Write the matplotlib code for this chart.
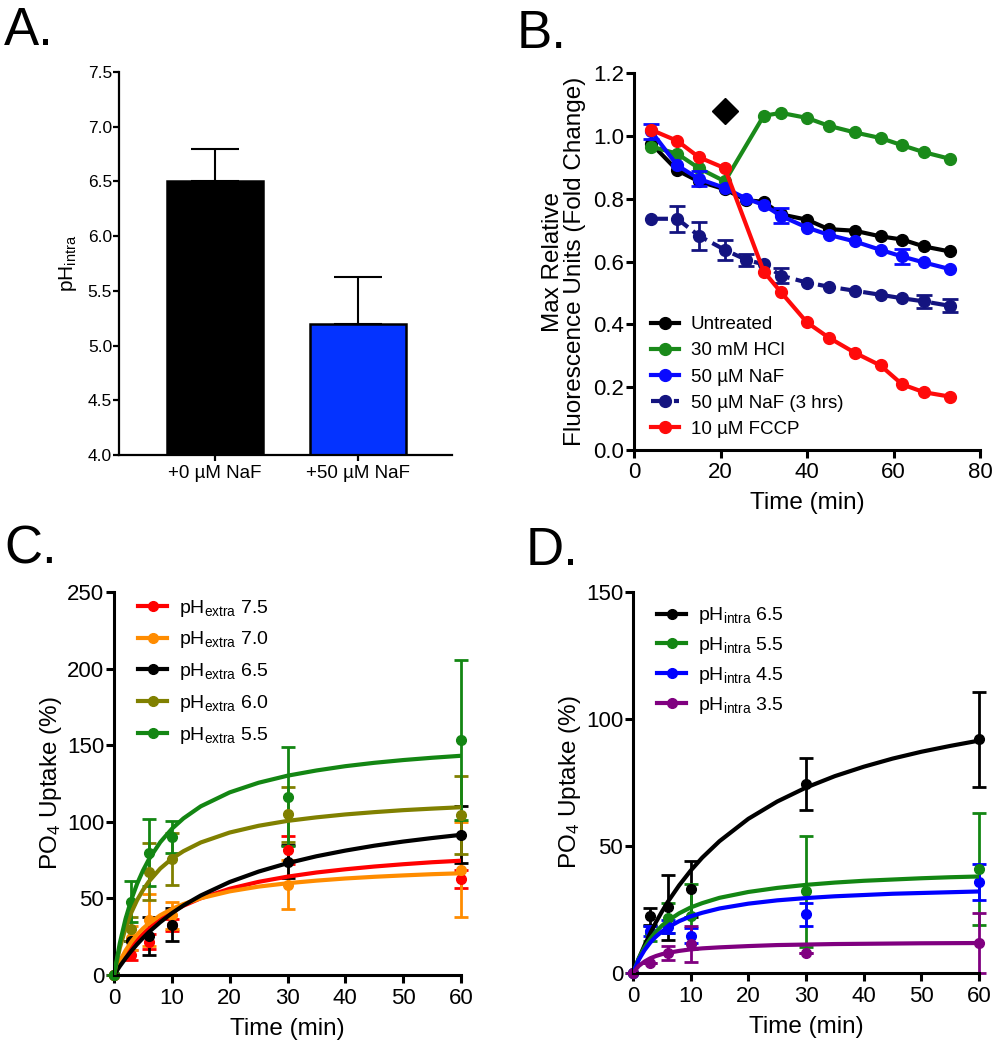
import matplotlib
matplotlib.use('Agg')
import matplotlib.pyplot as plt
import numpy as np
from matplotlib.lines import Line2D

plt.rcParams['font.family'] = ['Liberation Sans', 'DejaVu Sans']
plt.rcParams['mathtext.fontset'] = 'custom'
plt.rcParams['mathtext.rm'] = 'Liberation Sans'
plt.rcParams['mathtext.it'] = 'Liberation Sans:italic'

# ---- panel A: intracellular pH ----
a_groups = ['+0 µM NaF', '+50 µM NaF']
a_ph = [6.5, 5.2]
a_err = [0.3, 0.43]
a_colors = ['#000000', '#0433ff']

# ---- panel B: fluorescence over time ----
b_t = [4, 10, 15, 21, 26, 30, 34, 40, 45, 51, 57, 62, 67, 73]
b_t_short = [4, 10, 15, 21, 30, 34, 40, 45, 51, 57, 62, 67, 73]
b_untreated = [0.975, 0.89, 0.855, 0.83, 0.795, 0.79, 0.75, 0.733, 0.703, 0.698, 0.68, 0.67, 0.648, 0.632]
b_hcl = [0.966, 0.943, 0.897, 0.855, 1.064, 1.073, 1.057, 1.032, 1.011, 0.993, 0.97, 0.948, 0.927]
b_naf = [1.014, 0.906, 0.863, 0.834, 0.80, 0.78, 0.745, 0.708, 0.685, 0.664, 0.637, 0.616, 0.597, 0.576]
b_naf_err = [0.025, 0, 0.024, 0, 0, 0, 0.024, 0, 0, 0, 0, 0.025, 0, 0]
b_naf3 = [0.736, 0.736, 0.682, 0.637, 0.605, 0.591, 0.555, 0.533, 0.52, 0.507, 0.494, 0.483, 0.473, 0.459]
b_naf3_err = [0, 0.042, 0.045, 0.031, 0.02, 0, 0.023, 0, 0, 0, 0, 0, 0.02, 0.021]
b_fccp = [1.019, 0.984, 0.932, 0.897, 0.568, 0.502, 0.406, 0.358, 0.31, 0.269, 0.209, 0.184, 0.17]
b_diamond = (21.1, 1.078)

# ---- panels C and D: PO4 uptake ----
t_pts = [0, 3, 6, 10, 30, 60]
t_fit = [0, 1, 2, 3, 4, 5, 6, 8, 10, 12, 15, 20, 25, 30, 35, 40, 45, 50, 55, 60]

c_labels = ['7.5', '7.0', '6.5', '6.0', '5.5']
c_colors = ['#ff0000', '#ff8c00', '#000000', '#808000', '#138613']
c_vals = [
    [0, 13, 21.8, 32.7, 81.7, 62.5],
    [0, 24, 36, 39, 58.8, 68.6],
    [0, 22.3, 25.5, 32.7, 74, 91.5],
    [0, 30, 67.5, 75.6, 105, 104.5],
    [0, 47.9, 79.9, 89.9, 116.5, 153.4],
]
c_errs = [
    [0, 3, 5, 4, 9, 6],
    [0, 8, 17, 8.7, 16, 31],
    [0, 0, 12.5, 10.8, 10.6, 18.7],
    [0, 8, 18.5, 17, 18, 25.5],
    [0, 13.5, 22, 10.5, 32, 52],
]
c_curves = [
    [0, 7.0, 13.0, 18.2, 22.7, 26.7, 30.2, 36.2, 41.1, 45.2, 50.1, 56.3, 60.8, 64.2, 66.9, 69.0, 70.8, 72.3, 73.6, 74.6],
    [0, 9.0, 16.0, 21.7, 26.4, 30.3, 33.6, 39.0, 43.1, 46.3, 50.1, 54.6, 57.7, 59.9, 61.6, 63.0, 64.1, 65.0, 65.8, 66.4],
    [0, 5.7, 10.9, 15.7, 20.1, 24.1, 27.9, 34.5, 40.3, 45.4, 51.9, 60.7, 67.5, 73.0, 77.5, 81.2, 84.4, 87.1, 89.4, 91.5],
    [0, 17.6, 30.7, 40.8, 48.9, 55.4, 60.9, 69.5, 75.9, 80.8, 86.5, 93.0, 97.4, 100.6, 102.9, 104.8, 106.3, 107.6, 108.6, 109.5],
    [0, 20.7, 36.7, 49.3, 59.6, 68.1, 75.3, 86.7, 95.4, 102.2, 110.1, 119.2, 125.5, 130.1, 133.5, 136.3, 138.5, 140.3, 141.8, 143.1],
]

d_labels = ['6.5', '5.5', '4.5', '3.5']
d_colors = ['#000000', '#138613', '#0000ff', '#800080']
d_vals = [
    [0, 22.3, 25.8, 33.1, 74.3, 92],
    [0, 15.7, 21.6, 22.3, 32.1, 40.9],
    [0, 16.4, 18.3, 14.7, 23.2, 35.8],
    [0, 3.9, 7.9, 11.4, 7.9, 11.8],
]
d_errs = [
    [0, 3.3, 12.8, 10.9, 10.2, 18.6],
    [0, 3, 6, 12.7, 22, 22],
    [0, 2, 2.5, 3, 4.5, 7],
    [0, 0, 2.8, 7.2, 0, 11.8],
]
d_curves = [
    [0, 5.7, 10.9, 15.7, 20.1, 24.1, 27.9, 34.5, 40.3, 45.4, 51.9, 60.7, 67.5, 73.0, 77.5, 81.2, 84.4, 87.1, 89.4, 91.5],
    [0, 5.8, 10.1, 13.5, 16.3, 18.6, 20.5, 23.5, 25.8, 27.5, 29.6, 31.9, 33.5, 34.7, 35.6, 36.3, 36.8, 37.3, 37.7, 38.0],
    [0, 5.2, 9.0, 12.0, 14.4, 16.3, 17.9, 20.4, 22.3, 23.7, 25.4, 27.3, 28.6, 29.5, 30.2, 30.7, 31.2, 31.5, 31.8, 32.1],
    [0, 2.8, 4.5, 5.8, 6.7, 7.4, 7.9, 8.7, 9.3, 9.7, 10.1, 10.6, 11.0, 11.2, 11.4, 11.5, 11.6, 11.7, 11.75, 11.8],
]

W, H = 999, 1050
fig = plt.figure(figsize=(W / 100, H / 100), dpi=100)


def add_axes(left, top, right, bottom):
    # pixel box -> figure fraction
    return fig.add_axes([left / W, 1 - bottom / H, (right - left) / W, (bottom - top) / H])


def style_axes(ax, lw=2.2, tick_len=6, fs=16):
    for s in ['top', 'right']:
        ax.spines[s].set_visible(False)
    for s in ['left', 'bottom']:
        ax.spines[s].set_linewidth(lw)
    ax.tick_params(direction='out', length=tick_len, width=lw, labelsize=fs)
    ax.tick_params(axis='y', pad=1)
    ax.tick_params(axis='x', pad=3)


# ---- A ----
axA = add_axes(119, 72, 452, 455)
xa = np.arange(len(a_groups))
axA.bar(xa, np.array(a_ph) - 4.0, bottom=4.0, width=0.67, color=a_colors,
        edgecolor='black', linewidth=1.8, zorder=2)
axA.errorbar(xa, a_ph, yerr=[[0, 0], a_err], fmt='none', ecolor='black',
             elinewidth=1.5, capsize=17, capthick=1.5, zorder=1)
axA.set_xlim(-0.67, 1.66)
axA.set_ylim(4.0, 7.5)
axA.set_yticks(np.arange(4.0, 7.51, 0.5))
axA.set_yticklabels(['%.1f' % v for v in np.arange(4.0, 7.51, 0.5)])
axA.set_xticks(xa)
axA.set_xticklabels(a_groups)
style_axes(axA, lw=1.6, tick_len=4, fs=12.5)
axA.tick_params(axis='x', labelsize=13.5, pad=3)
axA.set_ylabel(r'pH$_{\mathregular{intra}}$', fontsize=15, labelpad=6)

# ---- B ----
axB = add_axes(634, 73, 980, 450)
ms_b = 8.5
axB.plot(b_t, b_untreated, '-o', color='black', lw=3, ms=ms_b, label='Untreated', clip_on=False)
axB.plot(b_t_short, b_hcl, '-o', color='#1a8a1a', lw=3, ms=ms_b, label='30 mM HCl', clip_on=False)
axB.plot(b_t, b_naf, '-o', color='#0a0aff', lw=3, ms=ms_b, label='50 µM NaF', clip_on=False)
m = np.array(b_naf_err) > 0
axB.errorbar(np.array(b_t)[m], np.array(b_naf)[m], yerr=np.array(b_naf_err)[m], fmt='none',
             ecolor='#0a0aff', elinewidth=2, capsize=5.5, capthick=2)
axB.plot(b_t, b_naf3, 'o', linestyle=(0, (4, 1.5)), color='#141480', lw=3, ms=ms_b,
         label='50 µM NaF (3 hrs)', clip_on=False)
m = np.array(b_naf3_err) > 0
axB.errorbar(np.array(b_t)[m], np.array(b_naf3)[m], yerr=np.array(b_naf3_err)[m], fmt='none',
             ecolor='#141480', elinewidth=2, capsize=5.5, capthick=2)
axB.plot(b_t_short, b_fccp, '-o', color='#ff0a0a', lw=3, ms=ms_b, label='10 µM FCCP', clip_on=False)
axB.plot([b_diamond[0]], [b_diamond[1]], marker='D', color='black', ms=13, linestyle='none')
axB.set_xlim(0, 80)
axB.set_ylim(0, 1.2)
axB.set_xticks(np.arange(0, 81, 20))
axB.set_yticks(np.arange(0, 1.21, 0.2))
axB.set_yticklabels(['%.1f' % v for v in np.arange(0, 1.21, 0.2)])
style_axes(axB)
axB.set_xlabel('Time (min)', fontsize=17.5, labelpad=6)
axB.set_ylabel('Max Relative\nFluorescence Units (Fold Change)', fontsize=17.5,
               labelpad=5, linespacing=1.0)
axB.legend(loc='upper left', bbox_to_anchor=(0.05, 0.355), frameon=False, fontsize=13.5,
           handlelength=1.5, handletextpad=0.6, labelspacing=0.48, borderpad=0, borderaxespad=0)


def uptake_panel(ax, vals, errs, curves, colors, labels, prefix, ymax, order):
    for i in order:
        ax.plot(t_fit, curves[i], '-', color=colors[i], lw=3, zorder=3 + i * 0.01)
        ax.errorbar(t_pts, vals[i], yerr=errs[i], fmt='o', color=colors[i], ms=7,
                    elinewidth=2, capsize=4.7, capthick=2, zorder=2 + i * 0.01, clip_on=False)
    handles = [Line2D([], [], color=c, lw=3, marker='o', ms=7) for c in colors]
    texts = [r'pH$_{\mathregular{%s}}$ %s' % (prefix, lab) for lab in labels]
    ax.set_xlim(0, 60)
    ax.set_ylim(0, ymax)
    ax.set_xticks(np.arange(0, 61, 10))
    ax.set_yticks(np.arange(0, ymax + 1, 50))
    style_axes(ax)
    ax.set_xlabel('Time (min)', fontsize=17.5, labelpad=7)
    ax.set_ylabel(r'PO$_4$ Uptake (%)', fontsize=17.5, labelpad=2)
    return handles, texts


# ---- C ----
axC = add_axes(114, 592, 461, 975)
h, t = uptake_panel(axC, c_vals, c_errs, c_curves, c_colors, c_labels, 'extra', 250, [0, 1, 3, 4, 2])
axC.legend(h, t, loc='upper left', bbox_to_anchor=(0.07, 0.985), frameon=False, fontsize=14,
           handlelength=1.5, handletextpad=0.6, labelspacing=0.55, borderpad=0, borderaxespad=0)

# ---- D ----
axD = add_axes(633, 592, 979, 973)
h, t = uptake_panel(axD, d_vals, d_errs, d_curves, d_colors, d_labels, 'intra', 150, [3, 2, 1, 0])
axD.legend(h, t, loc='upper left', bbox_to_anchor=(0.07, 0.965), frameon=False, fontsize=14,
           handlelength=1.5, handletextpad=0.6, labelspacing=0.45, borderpad=0, borderaxespad=0)

# panel letters
for lab, x, y in [('A.', 4, 45), ('B.', 517, 48), ('C.', 4, 563), ('D.', 526, 565)]:
    fig.text(x / W, 1 - y / H, lab, fontsize=38, va='baseline', ha='left')

fig.savefig('out.png', dpi=100)
